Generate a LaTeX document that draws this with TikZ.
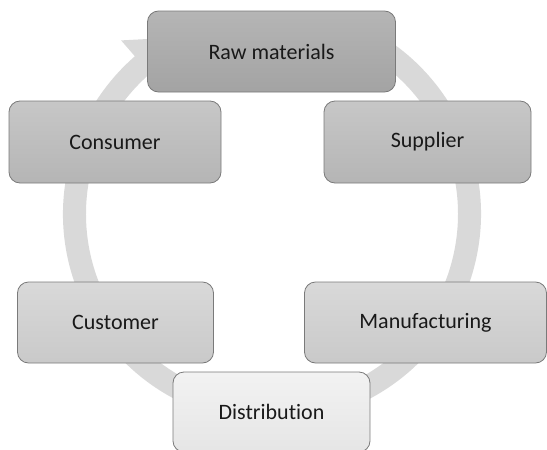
\documentclass[tikz,border=0pt]{standalone}
\usepackage{fontspec}
\setmainfont{Carlito}[Ligatures=NoCommon]
\definecolor{ringc}{HTML}{D9D9D9}
\definecolor{edgec}{HTML}{7A7A7A}
\tikzset{
  box/.style={draw=edgec, line width=0.8pt, rounded corners=11pt, inner sep=0pt,
    font=\fontsize{22}{26}\selectfont, text=black!90},
  lvlA/.style={box, top color=black!29, bottom color=black!36},
  lvlB/.style={box, top color=black!22, bottom color=black!29},
  lvlC/.style={box, top color=black!15, bottom color=black!21},
  lvlD/.style={box, top color=black!5, bottom color=black!10},
}
\begin{document}
\begin{tikzpicture}[x=1pt,y=1pt]
\useasboundingbox (0,0) rectangle (547,-450);
\clip (0,0) rectangle (547,-450);
\begin{scope}[shift={(272,-214)}]
\fill[ringc] (75:209pt) arc[start angle=75, end angle=-229, radius=209pt]
  -- (-229:230pt) -- (-244:197pt) -- (-229:164pt) -- (-229:186pt)
  arc[start angle=-229, end angle=75, radius=186pt] -- cycle;
\end{scope}
\node[lvlA, minimum width=248pt, minimum height=81pt] (raw) at (271.5,-51.5) {Raw materials};
\node[lvlB, minimum width=212pt, minimum height=82pt] (cons) at (115,-142) {Consumer};
\node[lvlB, minimum width=207pt, minimum height=82pt] (supp) at (427.5,-142) {Supplier};
\node[lvlC, minimum width=196pt, minimum height=81pt] (cust) at (115.5,-322.5) {Customer};
\node[lvlC, minimum width=242pt, minimum height=81pt] (manu) at (425.5,-322.5) {Manufacturing};
\node[lvlD, minimum width=197pt, minimum height=80pt] (dist) at (271.5,-412) {Distribution};
\end{tikzpicture}
\end{document}
